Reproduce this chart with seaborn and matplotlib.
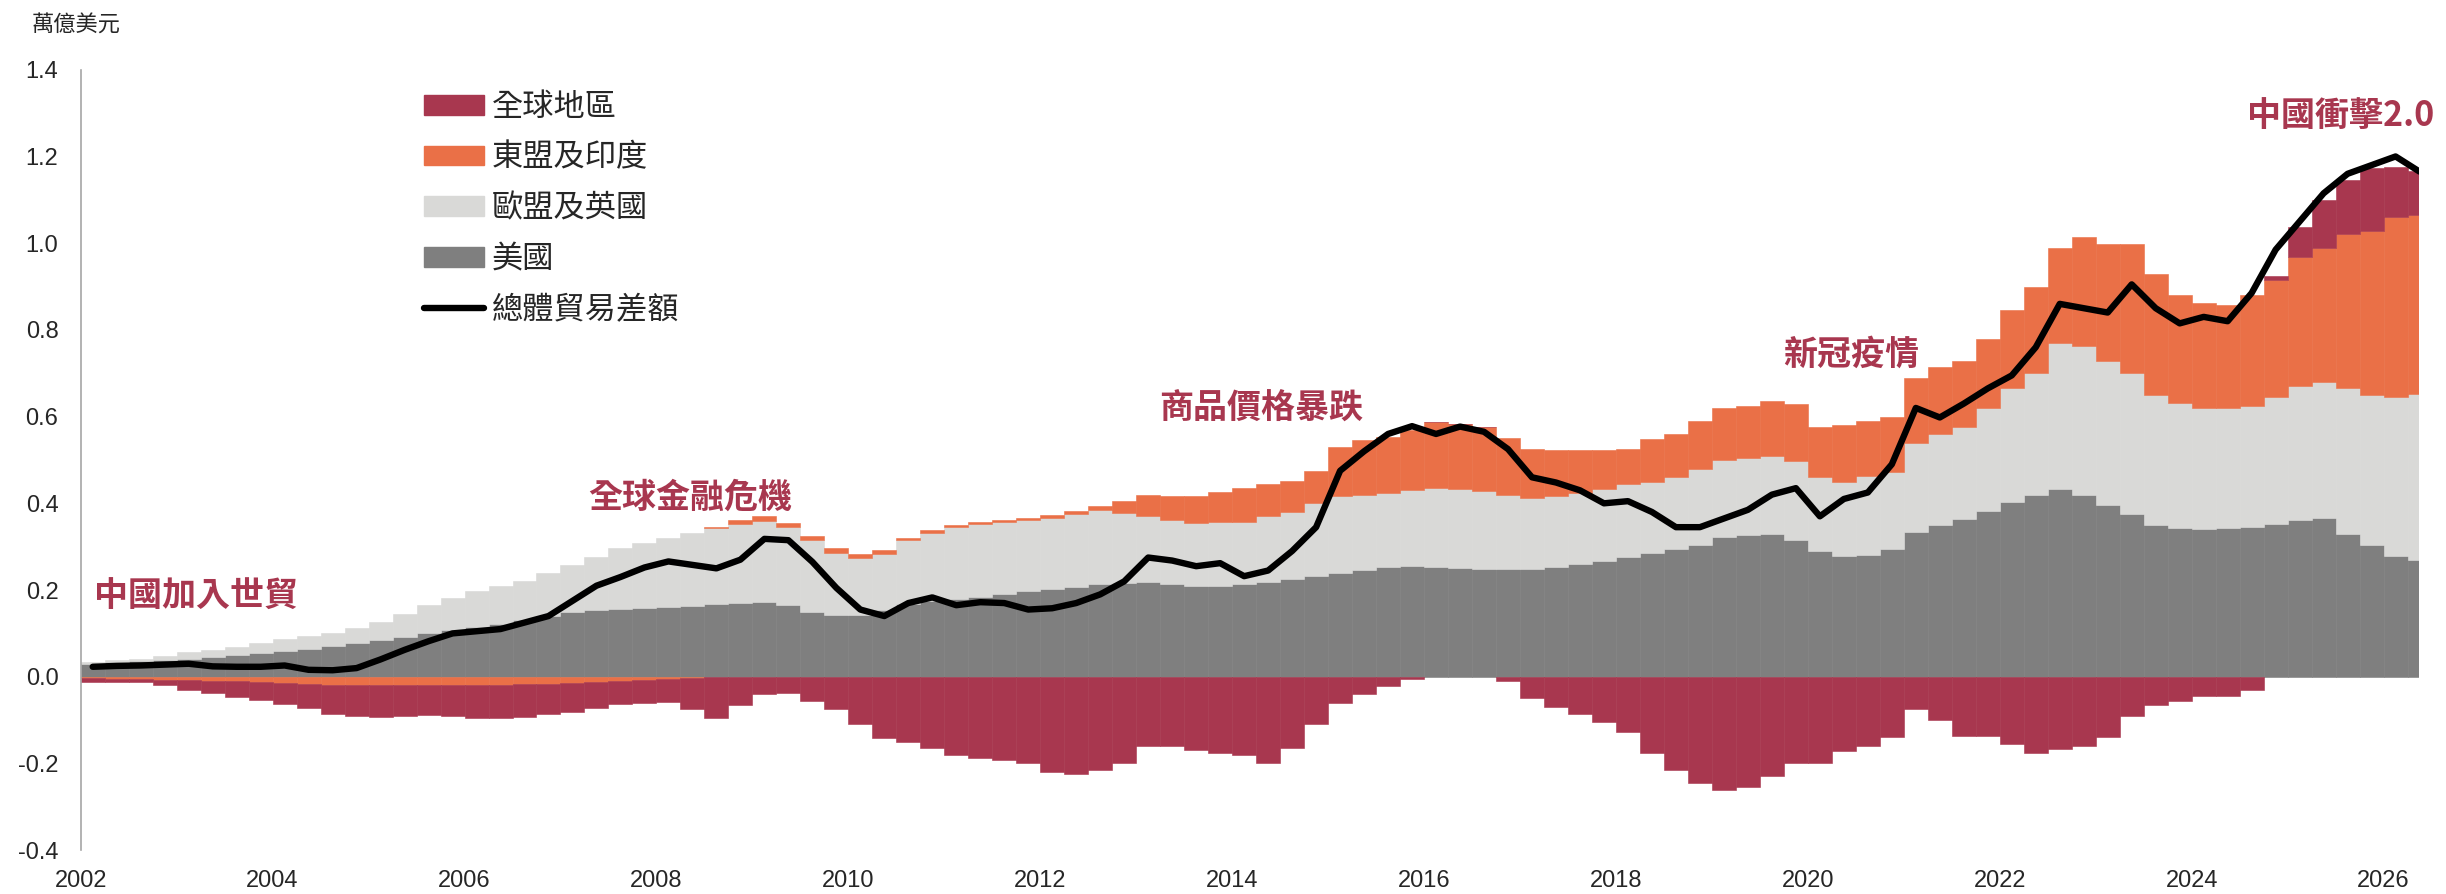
import numpy as np
import pandas as pd

import matplotlib
matplotlib.use("Agg")
import matplotlib.pyplot as plt
from matplotlib import font_manager
from matplotlib.patches import Patch
from matplotlib.lines import Line2D
import seaborn as sns

# quarterly data, 2002Q1 .. 2026Q2 (trillion USD)
quarters = pd.period_range("2002Q1", "2026Q2", freq="Q")

us = [
    0.030, 0.033, 0.036, 0.039, 0.042, 0.046, 0.050, 0.055,
    0.060, 0.064, 0.070, 0.077, 0.085, 0.092, 0.100, 0.107,
    0.115, 0.122, 0.130, 0.140, 0.150, 0.153, 0.156, 0.159,
    0.162, 0.164, 0.167, 0.170, 0.172, 0.165, 0.150, 0.143,
    0.143, 0.155, 0.168, 0.175, 0.180, 0.185, 0.190, 0.197,
    0.203, 0.208, 0.213, 0.216, 0.219, 0.214, 0.209, 0.210,
    0.213, 0.218, 0.225, 0.232, 0.240, 0.246, 0.252, 0.256,
    0.252, 0.250, 0.248, 0.248, 0.248, 0.254, 0.260, 0.268,
    0.276, 0.285, 0.295, 0.305, 0.322, 0.328, 0.330, 0.315,
    0.290, 0.278, 0.281, 0.295, 0.335, 0.350, 0.363, 0.383,
    0.403, 0.420, 0.433, 0.420, 0.395, 0.375, 0.350, 0.342,
    0.340, 0.342, 0.345, 0.352, 0.362, 0.365, 0.330, 0.305,
    0.278, 0.270,
]

eu_uk = [
    0.005, 0.005, 0.005, 0.009, 0.014, 0.016, 0.019, 0.023,
    0.028, 0.030, 0.030, 0.036, 0.042, 0.053, 0.065, 0.075,
    0.083, 0.088, 0.092, 0.100, 0.108, 0.124, 0.140, 0.149,
    0.158, 0.167, 0.175, 0.182, 0.188, 0.180, 0.165, 0.142,
    0.130, 0.127, 0.147, 0.157, 0.166, 0.167, 0.168, 0.165,
    0.164, 0.168, 0.172, 0.162, 0.151, 0.148, 0.145, 0.146,
    0.145, 0.152, 0.156, 0.168, 0.176, 0.174, 0.172, 0.174,
    0.184, 0.182, 0.180, 0.172, 0.165, 0.164, 0.164, 0.166,
    0.168, 0.165, 0.165, 0.175, 0.178, 0.177, 0.178, 0.182,
    0.170, 0.172, 0.181, 0.178, 0.205, 0.210, 0.214, 0.237,
    0.262, 0.280, 0.337, 0.342, 0.334, 0.325, 0.300, 0.290,
    0.279, 0.278, 0.279, 0.293, 0.309, 0.314, 0.335, 0.345,
    0.367, 0.383,
]

asean_india = [
    -0.004, -0.005, -0.006, -0.007, -0.008, -0.009, -0.010, -0.012,
    -0.014, -0.016, -0.018, -0.019, -0.020, -0.020, -0.019, -0.019,
    -0.019, -0.018, -0.017, -0.016, -0.014, -0.012, -0.010, -0.008,
    -0.006, -0.004, 0.004, 0.010, 0.010, 0.010, 0.010, 0.013,
    0.011, 0.010, 0.004, 0.006, 0.004, 0.004, 0.004, 0.005,
    0.006, 0.007, 0.008, 0.027, 0.050, 0.056, 0.062, 0.070,
    0.078, 0.075, 0.071, 0.075, 0.114, 0.125, 0.128, 0.140,
    0.152, 0.151, 0.149, 0.130, 0.113, 0.106, 0.098, 0.090,
    0.082, 0.099, 0.100, 0.110, 0.119, 0.120, 0.128, 0.133,
    0.115, 0.130, 0.128, 0.127, 0.150, 0.155, 0.152, 0.160,
    0.180, 0.200, 0.220, 0.253, 0.268, 0.297, 0.280, 0.248,
    0.244, 0.237, 0.256, 0.270, 0.296, 0.311, 0.355, 0.378,
    0.415, 0.413,
]

global_rest = [
    -0.008, -0.008, -0.007, -0.013, -0.022, -0.029, -0.036, -0.042,
    -0.048, -0.057, -0.067, -0.071, -0.072, -0.070, -0.069, -0.071,
    -0.077, -0.077, -0.075, -0.071, -0.067, -0.060, -0.052, -0.052,
    -0.052, -0.071, -0.095, -0.065, -0.040, -0.038, -0.055, -0.075,
    -0.110, -0.142, -0.150, -0.165, -0.180, -0.187, -0.193, -0.200,
    -0.220, -0.225, -0.215, -0.200, -0.160, -0.160, -0.170, -0.175,
    -0.180, -0.200, -0.165, -0.110, -0.060, -0.040, -0.021, -0.005,
    0.000, 0.000, 0.000, -0.010, -0.050, -0.070, -0.085, -0.105,
    -0.127, -0.175, -0.215, -0.245, -0.262, -0.255, -0.230, -0.200,
    -0.200, -0.172, -0.160, -0.140, -0.075, -0.100, -0.137, -0.137,
    -0.155, -0.175, -0.166, -0.160, -0.140, -0.091, -0.065, -0.055,
    -0.044, -0.044, -0.030, 0.010, 0.070, 0.110, 0.125, 0.145,
    0.115, 0.100,
]

total_balance = [
    0.023, 0.025, 0.026, 0.028, 0.030, 0.024, 0.023, 0.023,
    0.026, 0.016, 0.015, 0.020, 0.040, 0.062, 0.082, 0.100,
    0.105, 0.110, 0.125, 0.140, 0.175, 0.210, 0.230, 0.252,
    0.266, 0.258, 0.250, 0.270, 0.318, 0.315, 0.265, 0.205,
    0.155, 0.140, 0.170, 0.183, 0.165, 0.172, 0.170, 0.155,
    0.158, 0.170, 0.190, 0.220, 0.275, 0.268, 0.255, 0.262,
    0.232, 0.245, 0.290, 0.345, 0.475, 0.520, 0.560, 0.578,
    0.560, 0.577, 0.565, 0.525, 0.460, 0.448, 0.430, 0.400,
    0.405, 0.380, 0.345, 0.345, 0.365, 0.385, 0.420, 0.435,
    0.370, 0.410, 0.425, 0.490, 0.620, 0.598, 0.630, 0.665,
    0.695, 0.760, 0.860, 0.850, 0.840, 0.905, 0.850, 0.815,
    0.830, 0.820, 0.885, 0.985, 1.050, 1.115, 1.160, 1.180,
    1.200, 1.165,
]

series_names = ["全球地區", "東盟及印度", "歐盟及英國", "美國"]
line_name = "總體貿易差額"
events = ["中國加入世貿", "全球金融危機", "商品價格暴跌", "新冠疫情", "中國衝擊2.0"]
year_ticks = list(range(2002, 2027, 2))
value_ticks = [-0.4, -0.2, 0.0, 0.2, 0.4, 0.6, 0.8, 1.0, 1.2, 1.4]
unit_label = "萬億美元"

RED = "#A8374F"
ORANGE = "#EA7047"
LIGHT = "#D9D9D7"
DARK = "#7F7F7F"

sns.set_style("white")
installed = {f.name for f in font_manager.fontManager.ttflist}
narrow = "Liberation Sans Narrow" if "Liberation Sans Narrow" in installed else "Liberation Sans"
plt.rcParams["font.family"] = ["Noto Sans CJK TC", "DejaVu Sans"]

fig = plt.figure(figsize=(24.46, 8.94), dpi=100)
ax = fig.add_axes([0.033, 0.049, 0.956, 0.873])

x = np.array([p.year + (p.quarter - 1) / 4 for p in quarters])

# stack like a spreadsheet: positives upward, negatives downward
pos_base = np.zeros(len(x))
neg_base = np.zeros(len(x))
for vals, color in [(us, DARK), (eu_uk, LIGHT), (asean_india, ORANGE), (global_rest, RED)]:
    v = np.array(vals)
    bottom = np.where(v >= 0, pos_base, neg_base)
    ax.bar(x, v, width=0.25, bottom=bottom, align="edge", color=color,
           edgecolor=color, linewidth=0.4, zorder=2)
    pos_base += np.clip(v, 0, None)
    neg_base += np.clip(v, None, 0)

df = pd.DataFrame({"t": x + 0.125, "v": total_balance})
sns.lineplot(data=df, x="t", y="v", ax=ax, color="black", linewidth=4.6,
             zorder=5, legend=False)

ax.set_xlim(2002, 2026.37)
ax.set_ylim(-0.4, 1.4)
ax.set_xticks(year_ticks)
ax.set_xticklabels([str(y) for y in year_ticks], family=narrow, fontsize=17)
ax.set_yticks(value_ticks)
ax.set_yticklabels([f"{v:.1f}" for v in value_ticks], family=narrow, fontsize=17)
ax.tick_params(axis="x", length=0, pad=14)
ax.tick_params(axis="y", length=0, pad=16)
ax.set_xlabel("")
ax.set_ylabel("")
for side in ["top", "right", "bottom"]:
    ax.spines[side].set_visible(False)
ax.spines["left"].set_color("#A6A6A6")
ax.spines["left"].set_linewidth(1.2)
ax.grid(False)

fig.text(0.013, 0.972, unit_label, fontsize=16, va="center", ha="left")

positions = [(2003.2, 0.185), (2008.35, 0.415), (2014.3, 0.62), (2020.45, 0.745), (2025.55, 1.295)]
for label, (tx, ty) in zip(events, positions):
    ax.text(tx, ty, label, color=RED, fontsize=24.5, fontweight="bold",
            ha="center", va="center", zorder=6)

handles = [Patch(facecolor=c, edgecolor=c) for c in [RED, ORANGE, LIGHT, DARK]]
handles.append(Line2D([0], [0], color="black", linewidth=4.6))
ax.legend(handles, series_names + [line_name], loc="upper left",
          bbox_to_anchor=(0.147, 0.973), frameon=False, fontsize=22.5,
          handlelength=1.9, handleheight=0.6, handletextpad=0.25,
          labelspacing=0.6, borderaxespad=0, borderpad=0)

fig.savefig("out.png", dpi=100)
